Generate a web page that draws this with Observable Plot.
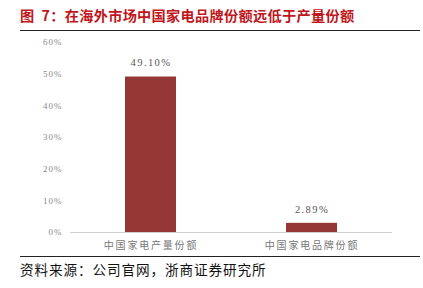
<!DOCTYPE html>
<html><head><meta charset="utf-8">
<script src="https://cdn.jsdelivr.net/npm/d3@7"></script>
<script src="https://cdn.jsdelivr.net/npm/@observablehq/plot@0.6"></script>
<style>
body{margin:0;background:#fff;width:423px;height:288px;overflow:hidden;position:relative;font-family:"Noto Sans CJK SC",sans-serif;}
#title{position:absolute;left:20px;top:5px;font-size:14.2px;font-weight:bold;color:#c0161c;white-space:pre;letter-spacing:0.3px;}
.rule{position:absolute;left:20px;width:400px;height:1.5px;background:#222;}
#src{position:absolute;left:20px;top:259px;font-size:13.6px;color:#111;white-space:nowrap;letter-spacing:0.9px;}
#chart{position:absolute;left:0;top:0;}
#chart g[aria-label="y-axis tick label"] text{letter-spacing:1px;}
#chart g[aria-label="x-axis tick label"] text{letter-spacing:1.8px;}
#chart g[aria-label="text"] text{letter-spacing:1.4px;}
</style></head>
<body>
<div id="title">图  7：在海外市场中国家电品牌份额远低于产量份额</div>
<div class="rule" style="top:29.5px"></div>
<div id="chart"></div>
<div class="rule" style="top:255.5px"></div>
<div id="src">资料来源：公司官网，浙商证券研究所</div>
<script>
const categories = ["中国家电产量份额", "中国家电品牌份额"];
const values = [49.10, 2.89];
const valueLabels = ["49.10%", "2.89%"];
const yTicks = [0, 10, 20, 30, 40, 50, 60];

const data = categories.map((c, i) => ({cat: c, v: values[i], label: valueLabels[i]}));

const chart = Plot.plot({
  width: 423,
  height: 288,
  marginTop: 42,
  marginBottom: 56,
  marginLeft: 70,
  marginRight: 31,
  style: {background: "transparent", overflow: "visible"},
  x: {domain: categories, paddingInner: 0.683, paddingOuter: 0.3415, label: null},
  y: {domain: [0, 60], label: null},
  marks: [
    Plot.axisY({ticks: yTicks, tickSize: 0, tickPadding: 8, tickFormat: d => d + "%",
      fontSize: 9, fill: "#888", fontFamily: "Liberation Serif"}),
    Plot.axisX({tickSize: 0, tickPadding: 9, fontSize: 10, fill: "#777",
      fontFamily: "Noto Sans CJK SC"}),
    Plot.barY(data, {x: "cat", y: "v", fill: "#953735"}),
    Plot.ruleY([0], {stroke: "#d0d0d0", strokeWidth: 1.2}),
    Plot.text(data, {x: "cat", y: "v", text: "label", dy: -14, fontSize: 10.5, fill: "#555",
      fontFamily: "Liberation Serif"})
  ]
});
document.getElementById("chart").appendChild(chart);
</script>
</body></html>
